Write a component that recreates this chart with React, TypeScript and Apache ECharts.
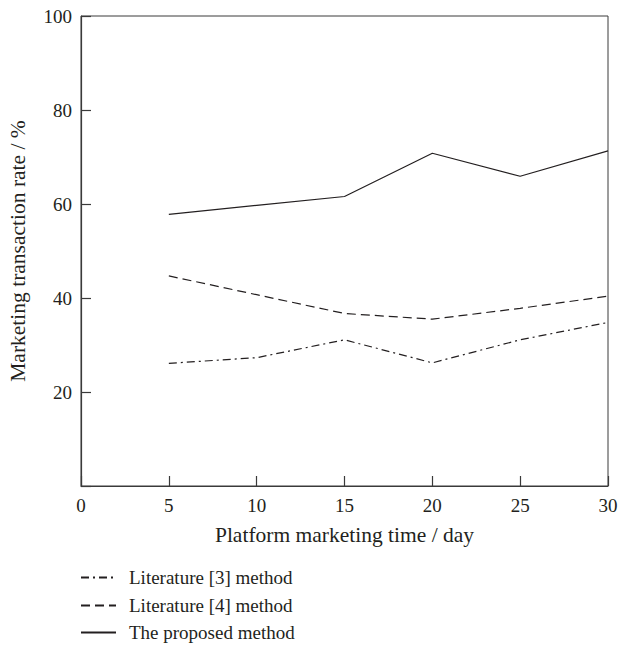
import React, { useEffect, useRef } from "react";
import * as echarts from "echarts";

const days = [5, 10, 15, 20, 25, 30];
const literature3 = [26.1, 27.3, 31.1, 26.2, 31.1, 34.8];
const literature4 = [44.7, 40.7, 36.7, 35.5, 37.8, 40.4];
const proposed = [57.8, 59.7, 61.6, 70.8, 65.9, 71.3];
const seriesNames = ["Literature [3] method", "Literature [4] method", "The proposed method"];
const xTicks = { min: 0, max: 30, interval: 5 };
const yTicks = { min: 0, max: 100, interval: 20 };

const FONT = "Liberation Serif";
const INK = "#231f20";
const AXIS = "#3a3a3a";
const legendTops = [568, 596, 623];

export default function App() {
  const ref = useRef<HTMLDivElement>(null);
  useEffect(() => {
    if (!ref.current) return;
    const chart = echarts.init(ref.current, undefined, { renderer: "svg" });
    const pair = (vals: number[]) => days.map((d, i) => [d, vals[i]]);
    const mk = (name: string, vals: number[], type: any) => ({
      name,
      type: "line",
      data: pair(vals),
      showSymbol: false,
      symbol: "none",
      lineStyle: { color: INK, width: 1.2, type },
      itemStyle: { color: INK },
    });
    chart.setOption({
      animation: false,
      textStyle: { fontFamily: FONT },
      grid: {
        left: 81,
        right: 11,
        top: 16,
        bottom: 160,
        containLabel: false,
        outerBoundsMode: "none",
        show: true,
        borderColor: AXIS,
        borderWidth: 1,
      },
      xAxis: {
        type: "value",
        min: xTicks.min,
        max: xTicks.max,
        interval: xTicks.interval,
        name: "Platform marketing time / day",
        nameLocation: "middle",
        nameGap: 38,
        nameTextStyle: { fontFamily: FONT, fontSize: 21.5, color: INK },
        axisLine: { show: true, lineStyle: { color: AXIS, width: 1.2 } },
        axisTick: { show: true, inside: true, length: 10, lineStyle: { color: AXIS, width: 1.2 } },
        axisLabel: { fontFamily: FONT, fontSize: 19, color: INK, margin: 10 },
        splitLine: { show: false },
      },
      yAxis: {
        type: "value",
        min: yTicks.min,
        max: yTicks.max,
        interval: yTicks.interval,
        name: "Marketing transaction rate / %",
        nameLocation: "middle",
        nameGap: 52,
        nameTextStyle: { fontFamily: FONT, fontSize: 21.5, color: INK },
        axisLine: { show: true, lineStyle: { color: AXIS, width: 1.2 } },
        axisTick: { show: true, inside: true, length: 10, lineStyle: { color: AXIS, width: 1.2 } },
        axisLabel: {
          fontFamily: FONT,
          fontSize: 19,
          color: INK,
          margin: 9,
          formatter: (v: number) => (v === 0 ? "" : String(v)),
        },
        splitLine: { show: false },
      },
      legend: seriesNames.map((n, i) => ({
        orient: "vertical",
        left: 80,
        top: legendTops[i],
        itemWidth: 35,
        itemHeight: 14,
        padding: 0,
        itemStyle: { opacity: 0 },
        textStyle: { fontFamily: FONT, fontSize: 19, color: INK, padding: [0, 0, 0, 8] },
        data: [n],
      })),
      series: [
        mk(seriesNames[0], literature3, [8, 4, 2, 4]),
        mk(seriesNames[1], literature4, [9, 5]),
        mk(seriesNames[2], proposed, "solid"),
      ],
    });
    return () => chart.dispose();
  }, []);
  return <div ref={ref} style={{ width: 619, height: 646, position: "absolute", left: 0, top: 0 }} />;
}
